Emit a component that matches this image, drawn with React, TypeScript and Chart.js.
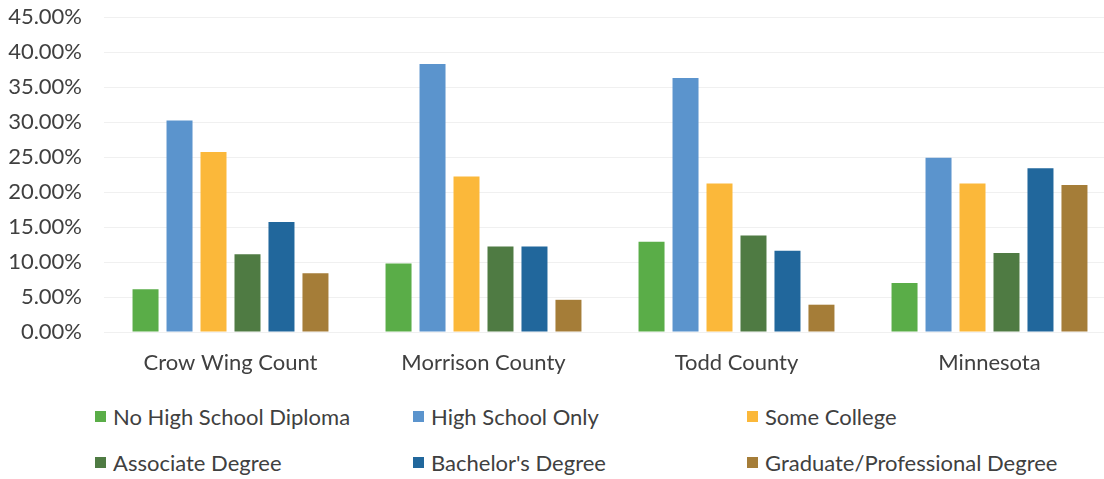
import React, { useEffect, useRef } from "react";
import { Chart, registerables } from "chart.js";

Chart.register(...registerables);

const categories = ["Crow Wing Count", "Morrison County", "Todd County", "Minnesota"];
const seriesNames = [
  "No High School Diploma",
  "High School Only",
  "Some College",
  "Associate Degree",
  "Bachelor's Degree",
  "Graduate/Professional Degree",
];
const noHighSchool = [6.1, 9.8, 12.9, 7.0];
const highSchoolOnly = [30.2, 38.3, 36.3, 24.9];
const someCollege = [25.7, 22.2, 21.2, 21.2];
const associate = [11.1, 12.2, 13.8, 11.3];
const bachelors = [15.7, 12.2, 11.6, 23.4];
const graduate = [8.4, 4.6, 3.9, 21.0];
const seriesValues = [noHighSchool, highSchoolOnly, someCollege, associate, bachelors, graduate];
const colors = ["#5aad48", "#5b94cd", "#fbb83a", "#4f7b43", "#21679c", "#a57d38"];
const yTicks = [0, 5, 10, 15, 20, 25, 30, 35, 40, 45];

const FONT = "Lato, 'Open Sans', sans-serif";
const TEXT = "#404040";

export default function App() {
  const ref = useRef<HTMLCanvasElement | null>(null);

  useEffect(() => {
    document.body.style.margin = "0";
    const canvas = ref.current;
    if (!canvas) return;
    const chart = new Chart(canvas, {
      type: "bar",
      data: {
        labels: categories,
        datasets: seriesValues.map((vals, i) => ({
          label: seriesNames[i],
          data: vals,
          backgroundColor: colors[i],
          borderWidth: 0,
          barPercentage: 0.765,
          categoryPercentage: 0.806,
        })),
      },
      options: {
        responsive: false,
        animation: false,
        layout: { autoPadding: false, padding: { left: 0, top: 17, right: 4, bottom: 0 } },
        plugins: {
          legend: { display: false },
          title: { display: false },
          subtitle: { display: false },
          tooltip: { enabled: false },
        },
        scales: {
          x: {
            grid: { display: false, drawTicks: false },
            border: { display: false },
            ticks: { color: TEXT, font: { family: FONT, size: 22 }, padding: 18, maxRotation: 0, autoSkip: false },
            afterFit: (s: any) => {
              s.height = 44;
              s.paddingTop = 0;
              s.paddingBottom = 0;
            },
          },
          y: {
            min: 0,
            max: 45,
            afterBuildTicks: (axis: any) => {
              axis.ticks = yTicks.map((v) => ({ value: v }));
            },
            grid: { color: "#f0f0f0", drawTicks: false },
            border: { display: false },
            ticks: {
              color: TEXT,
              font: { family: FONT, size: 22 },
              padding: 22,
              callback: (v: any) => Number(v).toFixed(2) + "%",
            },
            afterFit: (s: any) => {
              s.width = 104;
              s.paddingTop = 0;
              s.paddingBottom = 0;
            },
          },
        },
      },
    });
    return () => chart.destroy();
  }, []);

  const legendCols = [95, 413, 747];
  const legendRows = [416, 462];

  return (
    <div style={{ position: "relative", width: 1104, height: 479, overflow: "hidden", background: "#fff" }}>
      <canvas ref={ref} width={1120} height={376} style={{ position: "absolute", left: 0, top: 0 }} />
      {seriesNames.map((name, i) => {
        const col = i % 3;
        const row = Math.floor(i / 3);
        return (
          <div
            key={name}
            style={{
              position: "absolute",
              left: legendCols[col],
              top: legendRows[row] - 14,
              height: 28,
              display: "flex",
              alignItems: "center",
              fontFamily: FONT,
              fontSize: 22,
              color: TEXT,
              whiteSpace: "nowrap",
            }}
          >
            <span style={{ display: "inline-block", width: 11, height: 11, background: colors[i], marginRight: 7 }} />
            {name}
          </div>
        );
      })}
    </div>
  );
}
